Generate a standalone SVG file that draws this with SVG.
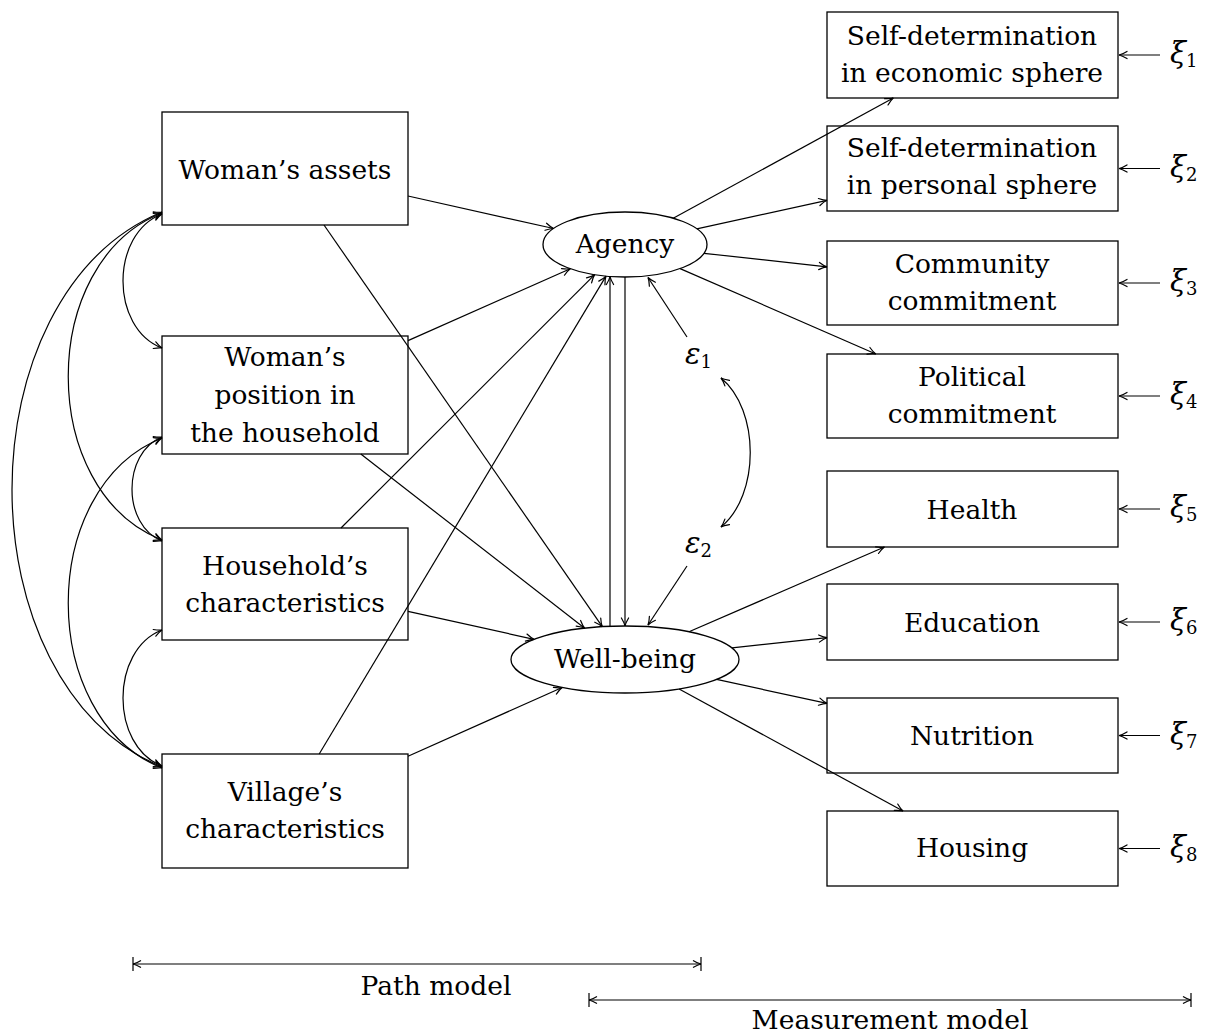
<svg xmlns="http://www.w3.org/2000/svg" width="1207" height="1036" viewBox="0 0 1207 1036">
<style>
.box{fill:#fff;stroke:#000;stroke-width:1.3}
.ell{fill:#fff;stroke:#000;stroke-width:1.3}
.lbl{font-family:"DejaVu Serif","Liberation Serif",serif;font-size:26.5px;text-anchor:middle;fill:#000}
.gk{font-family:"DejaVu Serif","Liberation Serif",serif;font-size:29px;font-style:italic;fill:#000}
.sub{font-size:18px;font-style:normal}
.e{fill:none;stroke:#000;stroke-width:1.2;marker-end:url(#ah)}
.c{fill:none;stroke:#000;stroke-width:1.2;marker-start:url(#ah);marker-end:url(#ah)}
.br{fill:none;stroke:#000;stroke-width:1.2;marker-start:url(#bar);marker-end:url(#bar)}
</style>
<defs>
<marker id="ah" viewBox="-10 -6 12 12" refX="0" refY="0" markerWidth="12" markerHeight="12" markerUnits="userSpaceOnUse" orient="auto-start-reverse">
<path d="M-8,-3.6 Q-3,-0.6 0,0 Q-3,0.6 -8,3.6" fill="none" stroke="#000" stroke-width="1.2" stroke-linecap="round"/>
</marker>
<marker id="bar" viewBox="-10 -8 12 16" refX="0" refY="0" markerWidth="12" markerHeight="16" markerUnits="userSpaceOnUse" orient="auto-start-reverse">
<path d="M0,-7 V7 M-8,-3.6 Q-3,-0.6 0,0 Q-3,0.6 -8,3.6" fill="none" stroke="#000" stroke-width="1.2"/>
</marker>
</defs>

<g id="n-assets"><rect class="box" x="162" y="112" width="246" height="113"/><text class="lbl" x="285" y="179">Woman’s assets</text></g>
<g id="n-position"><rect class="box" x="162" y="336" width="246" height="118"/><text class="lbl"><tspan x="285" y="366">Woman’s</tspan><tspan x="285" y="404">position in</tspan><tspan x="285" y="442">the household</tspan></text></g>
<g id="n-household"><rect class="box" x="162" y="528" width="246" height="112"/><text class="lbl"><tspan x="285" y="575">Household’s</tspan><tspan x="285" y="612">characteristics</tspan></text></g>
<g id="n-village"><rect class="box" x="162" y="754" width="246" height="114"/><text class="lbl"><tspan x="285" y="801">Village’s</tspan><tspan x="285" y="838">characteristics</tspan></text></g>

<g id="n-agency"><ellipse class="ell" cx="625" cy="244.5" rx="82" ry="32.5"/><text class="lbl" x="625" y="253">Agency</text></g>
<g id="n-wellbeing"><ellipse class="ell" cx="625" cy="659.5" rx="114" ry="33.5"/><text class="lbl" x="625" y="668">Well-being</text></g>

<g id="n-eps1"><text class="gk" x="685" y="364">ε<tspan class="sub" dy="4">1</tspan></text></g>
<g id="n-eps2"><text class="gk" x="685" y="553">ε<tspan class="sub" dy="4">2</tspan></text></g>

<g id="n-econ"><rect class="box" x="827" y="12" width="291" height="86"/><text class="lbl"><tspan x="972" y="45">Self-determination</tspan><tspan x="972" y="82">in economic sphere</tspan></text></g>
<g id="n-personal"><rect class="box" x="827" y="126" width="291" height="85"/><text class="lbl"><tspan x="972" y="157">Self-determination</tspan><tspan x="972" y="194">in personal sphere</tspan></text></g>
<g id="n-community"><rect class="box" x="827" y="241" width="291" height="84"/><text class="lbl"><tspan x="972" y="273">Community</tspan><tspan x="972" y="310">commitment</tspan></text></g>
<g id="n-political"><rect class="box" x="827" y="354" width="291" height="84"/><text class="lbl"><tspan x="972" y="386">Political</tspan><tspan x="972" y="423">commitment</tspan></text></g>
<g id="n-health"><rect class="box" x="827" y="471" width="291" height="76"/><text class="lbl" x="972" y="519">Health</text></g>
<g id="n-education"><rect class="box" x="827" y="584" width="291" height="76"/><text class="lbl" x="972" y="632">Education</text></g>
<g id="n-nutrition"><rect class="box" x="827" y="698" width="291" height="75"/><text class="lbl" x="972" y="745">Nutrition</text></g>
<g id="n-housing"><rect class="box" x="827" y="811" width="291" height="75"/><text class="lbl" x="972" y="857">Housing</text></g>

<g id="n-xi">
<text class="gk" x="1170" y="63">ξ<tspan class="sub" dy="4">1</tspan></text>
<text class="gk" x="1170" y="176.5">ξ<tspan class="sub" dy="4">2</tspan></text>
<text class="gk" x="1170" y="291">ξ<tspan class="sub" dy="4">3</tspan></text>
<text class="gk" x="1170" y="404">ξ<tspan class="sub" dy="4">4</tspan></text>
<text class="gk" x="1170" y="517">ξ<tspan class="sub" dy="4">5</tspan></text>
<text class="gk" x="1170" y="630">ξ<tspan class="sub" dy="4">6</tspan></text>
<text class="gk" x="1170" y="743.5">ξ<tspan class="sub" dy="4">7</tspan></text>
<text class="gk" x="1170" y="856.5">ξ<tspan class="sub" dy="4">8</tspan></text>
</g>

<g id="connectors">
<path class="e" d="M408,196 L553.6,228.5"/>
<path class="e" d="M408,340.6 L570.3,268.7"/>
<path class="e" d="M341,528 L594.7,274.7"/>
<path class="e" d="M319.2,754 L606,276.1"/>
<path class="e" d="M324,225 L602.3,626.7"/>
<path class="e" d="M360.8,454 L584.7,628.2"/>
<path class="e" d="M408,611.3 L534,639.3"/>
<path class="e" d="M408,756.2 L562.2,687.5"/>
<path class="e" d="M610,626.3 L610,276.5"/>
<path class="e" d="M625,277 L625,626"/>
<path class="e" d="M687,337 L648,277.5"/>
<path class="e" d="M687,566 L648,625"/>
<path class="c" d="M721,378 C760,410 760,495 721,527"/>
<path class="e" d="M673.2,218.2 L893.3,98"/>
<path class="e" d="M696.8,228.8 L827,200.3"/>
<path class="e" d="M704,253.3 L827,266.9"/>
<path class="e" d="M680.1,268.6 L875.8,354"/>
<path class="e" d="M689,631.8 L884.4,547"/>
<path class="e" d="M732,647.9 L827,637.7"/>
<path class="e" d="M716.6,679.4 L827,703.4"/>
<path class="e" d="M679.1,689 L903,811"/>
<path class="c" d="M162,214 C110,234 110,328 162,348"/>
<path class="c" d="M162,213 C37,262 37,491 162,540"/>
<path class="c" d="M162,212 C-38,295 -38,684 162,767"/>
<path class="c" d="M162,437 C122,453 122,525 162,541"/>
<path class="c" d="M162,438 C37,488 37,718 162,768"/>
<path class="c" d="M162,630 C110,650 110,746 162,766"/>
<path class="e" d="M1160,55 L1119,55"/>
<path class="e" d="M1160,168.5 L1119,168.5"/>
<path class="e" d="M1160,283 L1119,283"/>
<path class="e" d="M1160,396 L1119,396"/>
<path class="e" d="M1160,509 L1119,509"/>
<path class="e" d="M1160,622 L1119,622"/>
<path class="e" d="M1160,735.5 L1119,735.5"/>
<path class="e" d="M1160,848.5 L1119,848.5"/>
</g>

<g id="brackets">
<path class="br" d="M133,964 L701,964"/>
<text class="lbl" x="436" y="995">Path model</text>
<path class="br" d="M589,1000 L1191,1000"/>
<text class="lbl" x="890" y="1029">Measurement model</text>
</g>
</svg>
